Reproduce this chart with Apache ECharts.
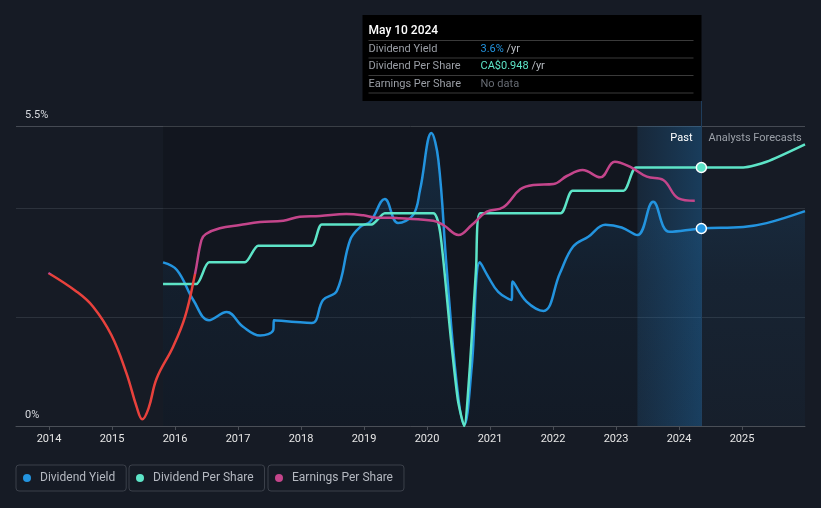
<!DOCTYPE html>
<html><head><meta charset="utf-8">
<script src="https://cdn.jsdelivr.net/npm/echarts@6/dist/echarts.min.js"></script>
<style>html,body{margin:0;padding:0;background:#161b25;}#c{width:821px;height:508px;}</style>
</head><body><div id="c"></div>
<script>
// ---- data ----
const yearTicks = [2014,2015,2016,2017,2018,2019,2020,2021,2022,2023,2024,2025];
const yieldData = [[2015.81,3.00],[2016.03,2.86],[2016.29,2.31],[2016.54,1.94],[2016.82,2.09],[2017.08,1.82],[2017.35,1.66],[2017.56,1.76],[2017.57,1.94],[2018.17,1.89],[2018.35,2.31],[2018.57,2.48],[2018.78,3.41],[2018.94,3.65],[2019.10,3.75],[2019.33,4.16],[2019.54,3.72],[2019.78,3.87],[2019.89,4.33],[2020.07,5.37],[2020.18,4.88],[2020.31,2.92],[2020.47,0.79],[2020.59,0.02],[2020.71,1.09],[2020.84,3.00],[2020.97,2.74],[2021.13,2.46],[2021.34,2.31],[2021.36,2.65],[2021.58,2.28],[2021.85,2.11],[2022.11,2.80],[2022.32,3.29],[2022.56,3.47],[2022.83,3.69],[2023.09,3.64],[2023.34,3.50],[2023.59,4.11],[2023.85,3.56],[2024.355,3.62],[2025.02,3.65],[2025.39,3.72],[2026.0,3.94]];
const dpsData = [[2015.81,0.521],[2016.34,0.521],[2016.54,0.600],[2017.11,0.600],[2017.32,0.661],[2018.17,0.661],[2018.33,0.739],[2019.12,0.739],[2019.33,0.780],[2020.10,0.780],[2020.21,0.708],[2020.37,0.341],[2020.49,0.095],[2020.59,0.0],[2020.68,0.216],[2020.78,0.583],[2020.84,0.780],[2022.12,0.780],[2022.31,0.863],[2023.12,0.863],[2023.32,0.948],[2024.355,0.948],[2025.02,0.948],[2025.39,0.969],[2026.0,1.033]];
const epsData = [[2013.99,1.53],[2014.44,1.343],[2014.70,1.193],[2014.99,0.91],[2015.23,0.527],[2015.39,0.193],[2015.48,0.067],[2015.58,0.177],[2015.71,0.477],[2015.97,0.793],[2016.16,1.093],[2016.32,1.527],[2016.42,1.86],[2016.49,1.92],[2016.71,1.977],[2017.03,2.01],[2017.35,2.04],[2017.72,2.053],[2017.98,2.093],[2018.30,2.10],[2018.72,2.12],[2018.99,2.107],[2019.20,2.083],[2019.41,2.083],[2019.57,2.077],[2020.10,2.053],[2020.26,2.01],[2020.50,1.91],[2020.71,2.01],[2020.95,2.143],[2021.21,2.187],[2021.48,2.367],[2021.69,2.41],[2022.01,2.42],[2022.22,2.50],[2022.47,2.56],[2022.75,2.487],[2022.98,2.643],[2023.22,2.593],[2023.49,2.493],[2023.75,2.46],[2023.99,2.277],[2024.25,2.253]];
const yLabels = {0:'0%', 5.5:'5.5%'};
const seriesNames = ['Dividend Yield','Dividend Per Share','Earnings Per Share'];
const tipDate = 'May 10 2024';
const tipRows = [['Dividend Yield','3.6%',' /yr'],['Dividend Per Share','CA$0.948',' /yr'],['Earnings Per Share','No data','']];
const nowX = 2024.355, pastStart = 2023.34, histStart = 2015.81;
const nowYield = 3.62, nowDps = 0.948, epsLowThreshold = 1.52;

// ---- styles ----
const C_BLUE='#2394df', C_CYAN='#5de4c7', C_MAG='#c4458b', C_RED='#e8413c';
const FONT='Roboto, "Noto Sans", sans-serif';

const chart = echarts.init(document.getElementById('c'), null, {renderer:'canvas'});
const legendCommon = {orient:'horizontal', top:465, itemWidth:16, itemHeight:8, icon:'circle',
  padding:[7,11,7,7], borderColor:'#3b404a', borderWidth:1, borderRadius:3, selectedMode:false,
  textStyle:{color:'#b4b8c0', fontSize:12, fontFamily:FONT}};
chart.setOption({
  animation:false,
  backgroundColor:'#161b25',
  grid:{left:16, right:16, top:126, bottom:82, containLabel:false},
  legend:[
    Object.assign({data:[seriesNames[0]], left:16}, legendCommon),
    Object.assign({data:[seriesNames[1]], left:129}, legendCommon),
    Object.assign({data:[seriesNames[2]], left:268}, legendCommon)
  ],
  xAxis:{type:'value', min:2013.476, max:2026.0,
    splitLine:{show:false},
    axisLine:{lineStyle:{color:'#4a4f57', width:1}},
    axisTick:{customValues:yearTicks, length:4, lineStyle:{color:'#4a4f57'}},
    axisLabel:{customValues:yearTicks, formatter:v=>String(Math.round(v)), color:'#e6e6e6', fontSize:11, fontFamily:FONT, margin:8}},
  yAxis:[
    {type:'value', min:0, max:5.5, interval:2,
      axisLine:{show:false}, axisTick:{show:false},
      axisLabel:{inside:true, margin:9, verticalAlign:'bottom', padding:[0,0,5,0], color:'#d8dbe0', fontSize:11, fontFamily:FONT,
        formatter:v=> (yLabels[v]!==undefined ? yLabels[v] : '')},
      splitLine:{lineStyle:{color:['#3a3f48','#2c323c','#2c323c','#454a53'], width:1}}},
    {type:'value', min:0, max:1.1, show:false},
    {type:'value', min:0, max:3.0, show:false}
  ],
  series:[
    {name:seriesNames[0], type:'line', yAxisIndex:0, data:yieldData, smooth:0.4, showSymbol:false, z:3,
      lineStyle:{color:C_BLUE, width:2.5}, itemStyle:{color:C_BLUE},
      areaStyle:{color:new echarts.graphic.LinearGradient(0,0,0,1,[
        {offset:0,color:'rgba(35,125,195,0.30)'},{offset:0.5,color:'rgba(35,125,195,0.12)'},{offset:1,color:'rgba(35,125,195,0.06)'}])},
      markArea:{silent:true, z:1, data:[
        [{xAxis:histStart, itemStyle:{color:'rgba(0,0,0,0.15)'}},{xAxis:pastStart}],
        [{xAxis:pastStart, itemStyle:{color:new echarts.graphic.LinearGradient(0,0,1,0,[
          {offset:0,color:'rgba(30,105,165,0.16)'},{offset:1,color:'rgba(30,115,180,0.38)'}])}},{xAxis:nowX}]
      ]},
      markPoint:{silent:true, symbol:'circle', symbolSize:10, label:{show:false},
        itemStyle:{color:C_BLUE, borderColor:'#ffffff', borderWidth:1.5},
        data:[{coord:[nowX, nowYield]}]}
    },
    {name:seriesNames[1], type:'line', yAxisIndex:1, data:dpsData, smooth:0.22, showSymbol:false, z:3,
      lineStyle:{color:C_CYAN, width:2.5}, itemStyle:{color:C_CYAN},
      markPoint:{silent:true, symbol:'circle', symbolSize:10, label:{show:false},
        itemStyle:{color:C_CYAN, borderColor:'#ffffff', borderWidth:1.5},
        data:[{coord:[nowX, nowDps]}]}
    },
    {name:seriesNames[2], type:'line', yAxisIndex:2, data:epsData, smooth:0.4, showSymbol:false, z:3,
      lineStyle:{color:C_MAG, width:2.5}, itemStyle:{color:C_MAG}}
  ]
});

// ---- decorations placed from the axes ----
const px = Math.round(chart.convertToPixel({xAxisIndex:0}, nowX)) + 0.5;
const gTop = chart.convertToPixel({yAxisIndex:0}, 5.5);
const gBot = chart.convertToPixel({yAxisIndex:0}, 0);
const yThr = chart.convertToPixel({yAxisIndex:2}, epsLowThreshold);
const t = (yThr - gTop) / (gBot - gTop);
const epsColor = new echarts.graphic.LinearGradient(0, gTop, 0, gBot, [
  {offset:0,color:C_MAG},{offset:t,color:C_MAG},{offset:t,color:C_RED},{offset:1,color:C_RED}], true);

const tipR = px, tipL = px - 339, tipT = 15, tipB = 101;
const rowY = [49, 66.5, 84], sepY = [40.5, 58, 75.5, 93];
const valColors = [C_BLUE, C_CYAN, '#676c74'];
const g = [
  {type:'line', z:1, shape:{x1:px, y1:tipB, x2:px, y2:gBot}, style:{stroke:'#1f3d5b', lineWidth:1}},
  {type:'rect', z:100, shape:{x:tipL, y:tipT, width:tipR-tipL, height:tipB-tipT}, style:{fill:'#000000'}},
  {type:'text', z:101, x:tipL+6, y:31, style:{text:tipDate, fill:'#ffffff', font:'500 12px '+FONT, verticalAlign:'middle'}},
  {type:'text', z:60, x:px-9, y:138, style:{text:'Past', fill:'#ffffff', font:'11px '+FONT, align:'right', verticalAlign:'middle'}},
  {type:'text', z:60, x:px+7, y:138, style:{text:'Analysts Forecasts', fill:'#9ba0a8', font:'11px '+FONT, align:'left', verticalAlign:'middle'}}
];
sepY.forEach(y=>g.push({type:'line', z:101, shape:{x1:tipL+6, y1:y, x2:tipR-8, y2:y}, style:{stroke:'#3a3a3a', lineWidth:1}}));
tipRows.forEach((r,i)=>{
  g.push({type:'text', z:101, x:tipL+6, y:rowY[i], style:{text:r[0], fill:'#9a9ea5', font:'11px '+FONT, verticalAlign:'middle'}});
  g.push({type:'text', z:101, x:tipL+118, y:rowY[i], style:{
    text:'{v|'+r[1]+'}{u|'+r[2]+'}', verticalAlign:'middle', font:'11px '+FONT,
    rich:{v:{fill:valColors[i], font:'11px '+FONT}, u:{fill:'#b8bcc2', font:'11px '+FONT}}}});
});
chart.setOption({graphic:g, series:[{}, {}, {lineStyle:{color:epsColor}}]});
</script></body></html>
